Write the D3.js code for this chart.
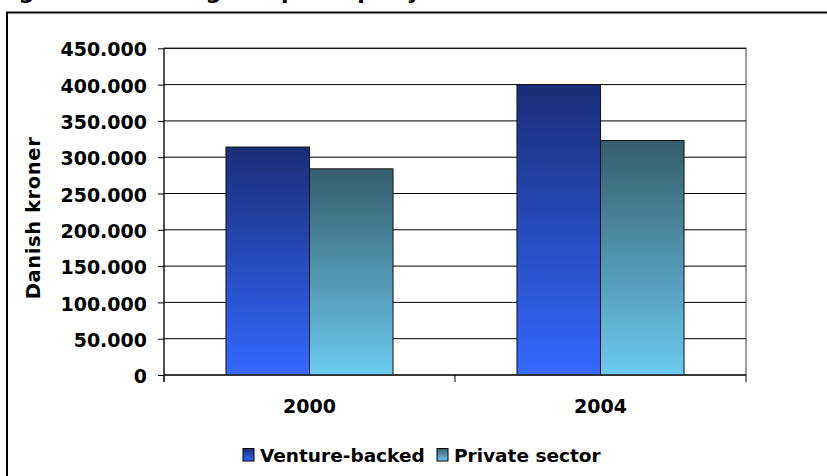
<!DOCTYPE html>
<html>
<head>
<meta charset="utf-8">
<script src="https://cdn.jsdelivr.net/npm/d3@7"></script>
<style>
  html, body { margin: 0; padding: 0; background: #fff; }
  svg { display: block; }
  text { font-family: "DejaVu Sans", Verdana, sans-serif; font-weight: bold; fill: #000; }
</style>
</head>
<body>
<svg id="chart" width="827" height="476"></svg>
<script>
// Mean annual figures, Danish kroner
const categories = ["2000", "2004"];
const seriesNames = ["Venture-backed", "Private sector"];
const ventureBacked = [314000, 400000];
const privateSector = [284000, 323000];
const yTicks = [0, 50000, 100000, 150000, 200000, 250000, 300000, 350000, 400000, 450000];
const titleText = "Figure 10: Mean gross profit per year";
const yTitle = "Danish kroner";

const series = [
  { name: seriesNames[0], values: ventureBacked, grad: "gradVenture", top: "#1a2e78", bottom: "#3468ff" },
  { name: seriesNames[1], values: privateSector, grad: "gradPrivate", top: "#355d6c", bottom: "#6ccaf0" }
];

const svg = d3.select("#chart");
const W = 827, H = 476;
const plot = { left: 164, right: 746, top: 48.3, bottom: 375 };

const defs = svg.append("defs");
series.forEach(s => {
  const g = defs.append("linearGradient")
    .attr("id", s.grad).attr("x1", 0).attr("y1", 0).attr("x2", 0).attr("y2", 1);
  g.append("stop").attr("offset", "0%").attr("stop-color", s.top);
  g.append("stop").attr("offset", "100%").attr("stop-color", s.bottom);
});

// caption line above the frame (mostly outside the page)
svg.append("text")
  .attr("x", -4).attr("y", -1)
  .style("font-size", "22px")
  .text(titleText);

// outer frame
svg.append("rect")
  .attr("x", 7).attr("y", 12.5)
  .attr("width", W + 20).attr("height", H + 20)
  .attr("fill", "none").attr("stroke", "#000").attr("stroke-width", 2);

const fmt = d3.formatLocale({ decimal: ",", thousands: ".", grouping: [3], currency: ["", ""] }).format(",");

const y = d3.scaleLinear().domain([0, 450000]).range([plot.bottom, plot.top]);
const x0 = d3.scaleBand().domain(categories).range([plot.left, plot.right])
  .paddingInner(0.426).paddingOuter(0.213);
const x1 = d3.scaleBand().domain(seriesNames).range([0, x0.bandwidth()]).padding(0);

// plot area border
svg.append("rect")
  .attr("x", plot.left).attr("y", plot.top)
  .attr("width", plot.right - plot.left).attr("height", plot.bottom - plot.top)
  .attr("fill", "#fff").attr("stroke", "#808080").attr("stroke-width", 1.5);

// gridlines
svg.append("g").selectAll("line").data(yTicks).join("line")
  .attr("x1", plot.left).attr("x2", plot.right)
  .attr("y1", d => y(d)).attr("y2", d => y(d))
  .attr("stroke", "#000").attr("stroke-width", 1);

// bars
const groups = svg.append("g").selectAll("g").data(categories).join("g")
  .attr("transform", d => `translate(${x0(d)},0)`);
groups.selectAll("rect")
  .data((c, i) => series.map(s => ({ s, v: s.values[i] })))
  .join("rect")
  .attr("x", d => x1(d.s.name))
  .attr("y", d => y(d.v))
  .attr("width", x1.bandwidth())
  .attr("height", d => y(0) - y(d.v))
  .attr("fill", d => `url(#${d.s.grad})`)
  .attr("stroke", "#111").attr("stroke-width", 1);

// y axis
const yAxis = svg.append("g")
  .attr("transform", `translate(${plot.left},0)`)
  .call(d3.axisLeft(y).tickValues(yTicks).tickFormat(fmt).tickSize(6).tickPadding(11));
yAxis.select(".domain").attr("stroke", "#000").attr("d", `M0,${plot.top}V${plot.bottom + 7}`);
yAxis.selectAll(".tick line").attr("stroke", "#000");
yAxis.selectAll(".tick text").style("font-size", "19px").attr("dy", "0.4em")
  .style("font-family", "'DejaVu Sans', Verdana, sans-serif");

// x axis: baseline, boundary ticks, category labels
svg.append("line")
  .attr("x1", plot.left).attr("x2", plot.right)
  .attr("y1", y(0)).attr("y2", y(0))
  .attr("stroke", "#333").attr("stroke-width", 1.5);
const bounds = [plot.left].concat(categories.map(c => x0(c) - x0.step() * x0.paddingOuter() + x0.step()));
svg.append("g").selectAll("line").data(bounds).join("line")
  .attr("x1", d => d).attr("x2", d => d)
  .attr("y1", y(0)).attr("y2", y(0) + 7)
  .attr("stroke", "#000").attr("stroke-width", 1);
const xAxis = svg.append("g")
  .attr("transform", `translate(0,${plot.bottom})`)
  .call(d3.axisBottom(x0).tickSize(0).tickPadding(0));
xAxis.select(".domain").remove();
xAxis.selectAll(".tick text").style("font-size", "19px").attr("y", 38).attr("dy", 0)
  .style("font-family", "'DejaVu Sans', Verdana, sans-serif");

// y axis title
svg.append("text")
  .attr("transform", "translate(39.5,218) rotate(-90)")
  .attr("text-anchor", "middle")
  .style("font-size", "19.5px")
  .style("letter-spacing", "0.6px")
  .text(yTitle);

// legend
const legend = svg.append("g");
const legendItems = [
  { s: series[0], x: 243 },
  { s: series[1], x: 437 }
];
legendItems.forEach(it => {
  legend.append("rect")
    .attr("x", it.x).attr("y", 448.5).attr("width", 11).attr("height", 12.5)
    .attr("fill", `url(#${it.s.grad})`).attr("stroke", "#000").attr("stroke-width", 1);
  legend.append("text")
    .attr("x", it.x + 17).attr("y", 461.5)
    .style("font-size", "18.5px")
    .text(it.s.name);
});
</script>
</body>
</html>
